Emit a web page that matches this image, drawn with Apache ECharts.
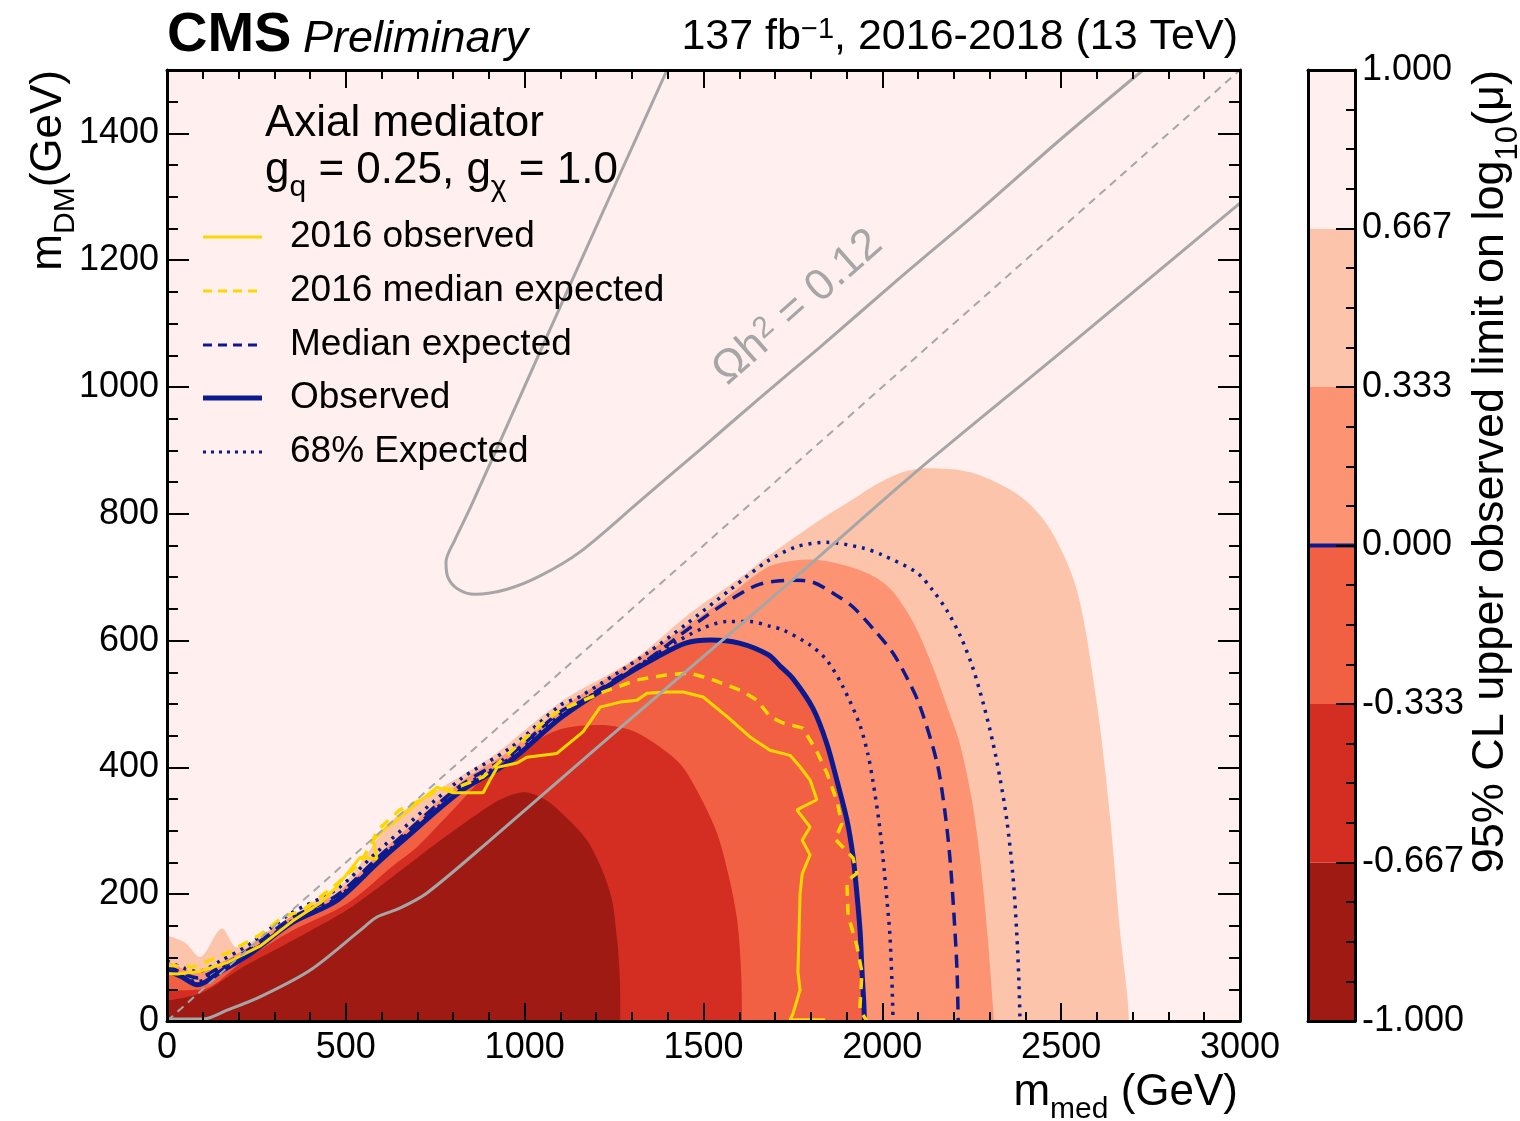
<!DOCTYPE html>
<html>
<head>
<meta charset="utf-8">
<title>CMS axial mediator limits</title>
<script src="https://cdn.jsdelivr.net/npm/echarts@6/dist/echarts.min.js"></script>
<style>
  html, body { margin: 0; padding: 0; background: #fff; }
  #chart { width: 1520px; height: 1121px; }
</style>
</head>
<body>
<div id="chart"></div>
<script>
// all contour points are [m_med, m_DM] in GeV

// filled contours of log10(mu), upper edge of each band
const band0p667 = [[0,135],[50,124],[92,101],[154,146],[196,116],[288,144],[400,185],[503,222],[632,318],[744,360],[911,418],[1100,503],[1310,572],[1462,643],[1622,707],[1658,724],[1817,787],[1910,820],[1985,847],[2058,866],[2125,872],[2250,865],[2385,828],[2470,775],[2544,680],[2600,500],[2637,320],[2665,140],[2685,40],[2690,0]]
const band0p333 = [[0,95],[85,76],[150,92],[230,118],[350,166],[475,202],[590,262],[820,376],[960,427],[1100,492],[1250,548],[1400,603],[1550,662],[1680,716],[1750,726],[1798,728],[1900,718],[1980,700],[2030,677],[2090,625],[2142,557],[2185,490],[2217,437],[2250,350],[2273,257],[2295,130],[2310,17],[2312,0]]
const bandM0p333 = [[0,48],[100,50],[212,94],[352,143],[503,185],[632,245],[700,275],[791,328],[884,383],[979,424],[1099,460],[1211,467],[1290,460],[1350,443],[1400,423],[1443,400],[1490,355],[1538,296],[1570,230],[1594,160],[1605,80],[1608,0]]
const bandM0p667 = [[0,32],[100,45],[212,85],[288,108],[400,142],[503,175],[632,228],[760,283],[903,340],[960,356],[1000,361],[1060,348],[1118,320],[1174,285],[1215,240],[1244,191],[1258,130],[1264,90],[1267,40],[1267,0]]

// limit contours (mu = 1)
const observed = [[0,80],[40,70],[85,57],[150,78],[230,105],[350,155],[475,190],[590,250],[650,280],[820,362],[960,410],[1100,478],[1260,538],[1370,574],[1450,596],[1520,601],[1600,596],[1680,578],[1714,560],[1750,540],[1806,493],[1845,437],[1875,375],[1901,317],[1918,260],[1929,200],[1938,140],[1943,80],[1948,30],[1950,0]]
const medianExp = [[0,88],[85,68],[150,86],[230,113],[350,163],[475,198],[590,258],[650,288],[820,371],[960,420],[1100,488],[1155,503],[1250,538],[1342,569],[1454,617],[1574,664],[1658,689],[1750,695],[1806,692],[1870,672],[1918,653],[1980,615],[2030,580],[2070,540],[2105,497],[2153,407],[2175,330],[2189,257],[2200,170],[2209,77],[2212,0]]
const exp68Up = [[0,95],[85,78],[150,95],[230,121],[350,171],[475,208],[590,268],[820,381],[960,431],[1100,498],[1155,512],[1342,580],[1454,627],[1574,680],[1678,725],[1760,748],[1845,755],[1946,746],[2000,735],[2097,707],[2140,680],[2181,647],[2220,605],[2253,557],[2285,495],[2310,437],[2330,380],[2348,317],[2365,230],[2376,137],[2382,60],[2385,0]]
const exp68Down = [[0,84],[85,62],[150,82],[230,108],[350,158],[475,194],[590,254],[820,366],[960,415],[1100,483],[1250,535],[1400,590],[1500,620],[1566,630],[1630,630],[1690,622],[1722,617],[1798,593],[1845,569],[1890,527],[1937,467],[1960,420],[1974,377],[1990,317],[2002,257],[2013,190],[2021,137],[2027,60],[2030,0]]
const obs2016 = [[0,75],[28,74],[90,78],[168,92],[260,118],[352,158],[428,186],[475,212],[540,258],[587,256],[576,285],[615,306],[632,312],[688,338],[755,369],[800,360],[884,360],[903,380],[923,400],[979,407],[1006,416],[1090,422],[1163,456],[1211,495],[1267,503],[1314,506],[1342,517],[1398,519],[1443,519],[1499,511],[1566,480],[1630,448],[1686,427],[1742,419],[1770,401],[1798,380],[1817,349],[1761,333],[1798,306],[1776,285],[1798,262],[1776,232],[1770,200],[1764,77],[1770,49],[1750,11],[1742,2],[1840,2]]
const exp2016 = [[0,88],[73,85],[168,107],[260,136],[324,164],[380,175],[464,211],[540,249],[576,285],[587,300],[651,333],[727,353],[763,369],[791,364],[884,385],[1006,448],[1071,480],[1099,490],[1211,517],[1314,538],[1398,546],[1462,549],[1527,538],[1602,522],[1650,506],[1686,480],[1722,470],[1778,462],[1817,425],[1845,391],[1873,347],[1887,311],[1868,287],[1918,257],[1929,233],[1901,221],[1904,167],[1929,118],[1943,77],[1937,17],[1957,0]]

// relic density curves and m_DM = m_med / 2
const relicLoop = [[1398,1500],[1253,1319],[1118,1150],[984,981],[850,812],[805,759],[780,724],[786,699],[814,681],[861,673],[951,681],[1043,702],[1155,740],[1322,820],[1490,901],[1658,983],[1826,1063],[2049,1172],[2273,1279],[2497,1390],[2729,1500]]
const relicLow = [[0,3],[100,3],[168,17],[260,38],[400,80],[540,143],[587,164],[651,178],[727,202],[903,285],[1200,430],[1554,601],[1750,696],[2077,858],[2500,1055],[3000,1290]]
const halfLine = [[0,0],[3000,1500]]

// colour scale
const cbarLevels = [-1, -2/3, -1/3, 0, 1/3, 2/3, 1]
const cbarColors = ['#9e1a13', '#d42d22', '#f26044', '#fc9474', '#fcc5ab', '#fff0ef']
const obsLevel = 0

const legendLabels = ['2016 observed', '2016 median expected', 'Median expected', 'Observed', '68% Expected']

const FONT = '"Liberation Sans", Arial, Helvetica, sans-serif'
const NAVY = '#0b1a8f'
const GOLD = '#ffd700'
const GREY = '#a6a6a6'

const chart = echarts.init(document.getElementById('chart'))

function fill(data, color) {
  return {
    type: 'line', data, symbol: 'none', silent: true, smooth: 0.3,
    lineStyle: { width: 0 },
    areaStyle: { color, opacity: 1 }
  }
}
function contour(data, color, width, type, smooth) {
  return {
    type: 'line', data, symbol: 'none', silent: true, smooth: smooth || false,
    lineStyle: { color, width, type: type || 'solid' }
  }
}

function axisBase(extra) {
  return Object.assign({
    type: 'value', z: 10,
    axisLine: { show: false, onZero: false },
    axisTick: { show: false },
    axisLabel: { show: false },
    splitLine: { show: false }
  }, extra)
}
const frame = { show: true, onZero: false, lineStyle: { color: '#000', width: 3 } }
function ticks(len) {
  return { show: true, inside: true, length: len, lineStyle: { color: '#000', width: 2 } }
}
const labelStyle = { show: true, fontSize: 36, color: '#000', fontFamily: FONT }

const xAxes = [
  axisBase({ gridIndex: 0, position: 'bottom', min: 0, max: 3000, interval: 500, axisLine: frame, axisTick: ticks(18),
    axisLabel: Object.assign({ margin: 9, formatter: v => String(v) }, labelStyle) }),
  axisBase({ gridIndex: 0, position: 'bottom', min: 0, max: 3000, interval: 100, axisTick: ticks(9) }),
  axisBase({ gridIndex: 0, position: 'top', min: 0, max: 3000, interval: 500, axisLine: frame, axisTick: ticks(18) }),
  axisBase({ gridIndex: 0, position: 'top', min: 0, max: 3000, interval: 100, axisTick: ticks(9) }),
  axisBase({ gridIndex: 1, position: 'bottom', min: 0, max: 1, axisLine: frame }),
  axisBase({ gridIndex: 1, position: 'top', min: 0, max: 1, axisLine: frame })
]
const yAxes = [
  axisBase({ gridIndex: 0, position: 'left', min: 0, max: 1500, interval: 200, axisLine: frame, axisTick: ticks(22),
    axisLabel: Object.assign({ margin: 8, formatter: v => (v > 1450 ? '' : String(v)) }, labelStyle) }),
  axisBase({ gridIndex: 0, position: 'left', min: 0, max: 1500, interval: 50, axisTick: ticks(11) }),
  axisBase({ gridIndex: 0, position: 'right', min: 0, max: 1500, interval: 200, axisLine: frame, axisTick: ticks(22) }),
  axisBase({ gridIndex: 0, position: 'right', min: 0, max: 1500, interval: 50, axisTick: ticks(11) }),
  axisBase({ gridIndex: 1, position: 'right', min: -1, max: 1, interval: 1 / 3, axisLine: frame, axisTick: ticks(19),
    axisLabel: Object.assign({ margin: 7, formatter: v => (Math.abs(v) < 1e-6 ? 0 : v).toFixed(3) }, labelStyle) }),
  axisBase({ gridIndex: 1, position: 'right', min: -1, max: 1, interval: 1 / 12, axisTick: ticks(9) }),
  axisBase({ gridIndex: 1, position: 'left', min: -1, max: 1, axisLine: frame })
]

const series = [
  fill(band0p667, cbarColors[4]),
  fill(band0p333, cbarColors[3]),
  fill(observed, cbarColors[2]),
  fill(bandM0p333, cbarColors[1]),
  fill(bandM0p667, cbarColors[0]),
  contour(exp68Up, NAVY, 3.5, [3, 6], 0.3),
  contour(exp68Down, NAVY, 3.5, [3, 6], 0.3),
  contour(medianExp, NAVY, 3.5, [13, 8], 0.3),
  contour(observed, NAVY, 5, 'solid', 0.3),
  contour(exp2016, GOLD, 3.5, [11, 8]),
  contour(obs2016, GOLD, 3),
  contour(relicLoop, GREY, 3, 'solid', 0.3),
  contour(relicLow, GREY, 3, 'solid', 0.3),
  contour(halfLine, GREY, 2, [8, 6]),
  {
    type: 'custom', xAxisIndex: 4, yAxisIndex: 4, silent: true,
    data: cbarColors.map((c, i) => [cbarLevels[i], cbarLevels[i + 1]]),
    encode: { y: [0, 1] },
    renderItem: (params, api) => {
      const p0 = api.coord([0, api.value(1)])
      const p1 = api.coord([1, api.value(0)])
      return { type: 'rect', shape: { x: p0[0], y: p0[1], width: p1[0] - p0[0], height: p1[1] - p0[1] },
        style: { fill: cbarColors[params.dataIndex] } }
    }
  },
  { type: 'line', xAxisIndex: 4, yAxisIndex: 4, symbol: 'none', silent: true,
    data: [[0, obsLevel], [1, obsLevel]], lineStyle: { color: NAVY, width: 4 } }
]

// text helpers
function rich(size, extra) {
  return Object.assign({ fontSize: size, fontFamily: FONT, lineHeight: Math.round(size * 1.15), verticalAlign: 'top' }, extra)
}
function label(x, y, text, size, opts) {
  opts = opts || {}
  return {
    type: 'text', x, y, z: 100, rotation: opts.rotation || 0, silent: true,
    style: {
      text, fill: opts.color || '#000', fontSize: size, fontFamily: FONT,
      fontWeight: opts.weight || 'normal', fontStyle: opts.style || 'normal',
      align: opts.align || 'left', verticalAlign: 'middle',
      rich: {
        n: rich(size),
        sub: rich(Math.round(size * 0.68), { lineHeight: Math.round(size * 0.68), padding: [Math.round(size * 0.55), 0, 0, 0] }),
        sup: rich(Math.round(size * 0.68), { lineHeight: Math.round(size * 0.68) })
      }
    }
  }
}

const legendY = [237, 291, 345, 398, 452]
const legendLines = [
  { color: GOLD, width: 3, type: 'solid' },
  { color: GOLD, width: 3, type: [9, 6] },
  { color: NAVY, width: 3, type: [9, 6] },
  { color: NAVY, width: 5, type: 'solid' },
  { color: NAVY, width: 3, type: [3, 5] }
]

const graphic = [
  label(167, 36, 'CMS', 56, { weight: 'bold' }),
  label(303, 39, 'Preliminary', 45, { style: 'italic' }),
  label(1238, 40, '{n|137 fb}{sup|−1}{n|, 2016-2018 (13 TeV)}', 43, { align: 'right' }),
  label(265, 124, 'Axial mediator', 44),
  label(265, 174, '{n|g}{sub|q}{n| = 0.25, g}{sub|χ}{n| = 1.0}', 44),
  label(1238, 1096, '{n|m}{sub|med}{n| (GeV)}', 44, { align: 'right' }),
  label(52, 70, '{n|m}{sub|DM}{n|(GeV)}', 44, { align: 'right', rotation: Math.PI / 2 }),
  label(1494, 70, '{n|95% CL upper observed limit on log}{sub|10}{n|(μ)}', 45, { align: 'right', rotation: Math.PI / 2 }),
  label(800, 310, '{n|Ωh}{sup|2}{n| = 0.12}', 44, { align: 'center', color: GREY, rotation: 41.5 * Math.PI / 180 })
]
legendLabels.forEach((t, i) => {
  const s = legendLines[i]
  graphic.push({
    type: 'line', z: 100, silent: true,
    shape: { x1: 203, y1: legendY[i], x2: 262, y2: legendY[i] },
    style: { stroke: s.color, lineWidth: s.width, lineDash: s.type === 'solid' ? null : s.type }
  })
  graphic.push(label(290, legendY[i], t, 37))
})

chart.setOption({
  animation: false,
  backgroundColor: '#fff',
  grid: [
    { left: 167, top: 70, width: 1073, height: 951, show: true, backgroundColor: cbarColors[5], borderWidth: 0 },
    { left: 1308, top: 70, width: 47, height: 951 }
  ],
  xAxis: xAxes,
  yAxis: yAxes,
  series: series.map(s => Object.assign({ xAxisIndex: 0, yAxisIndex: 0 }, s)),
  graphic
})
</script>
</body>
</html>
